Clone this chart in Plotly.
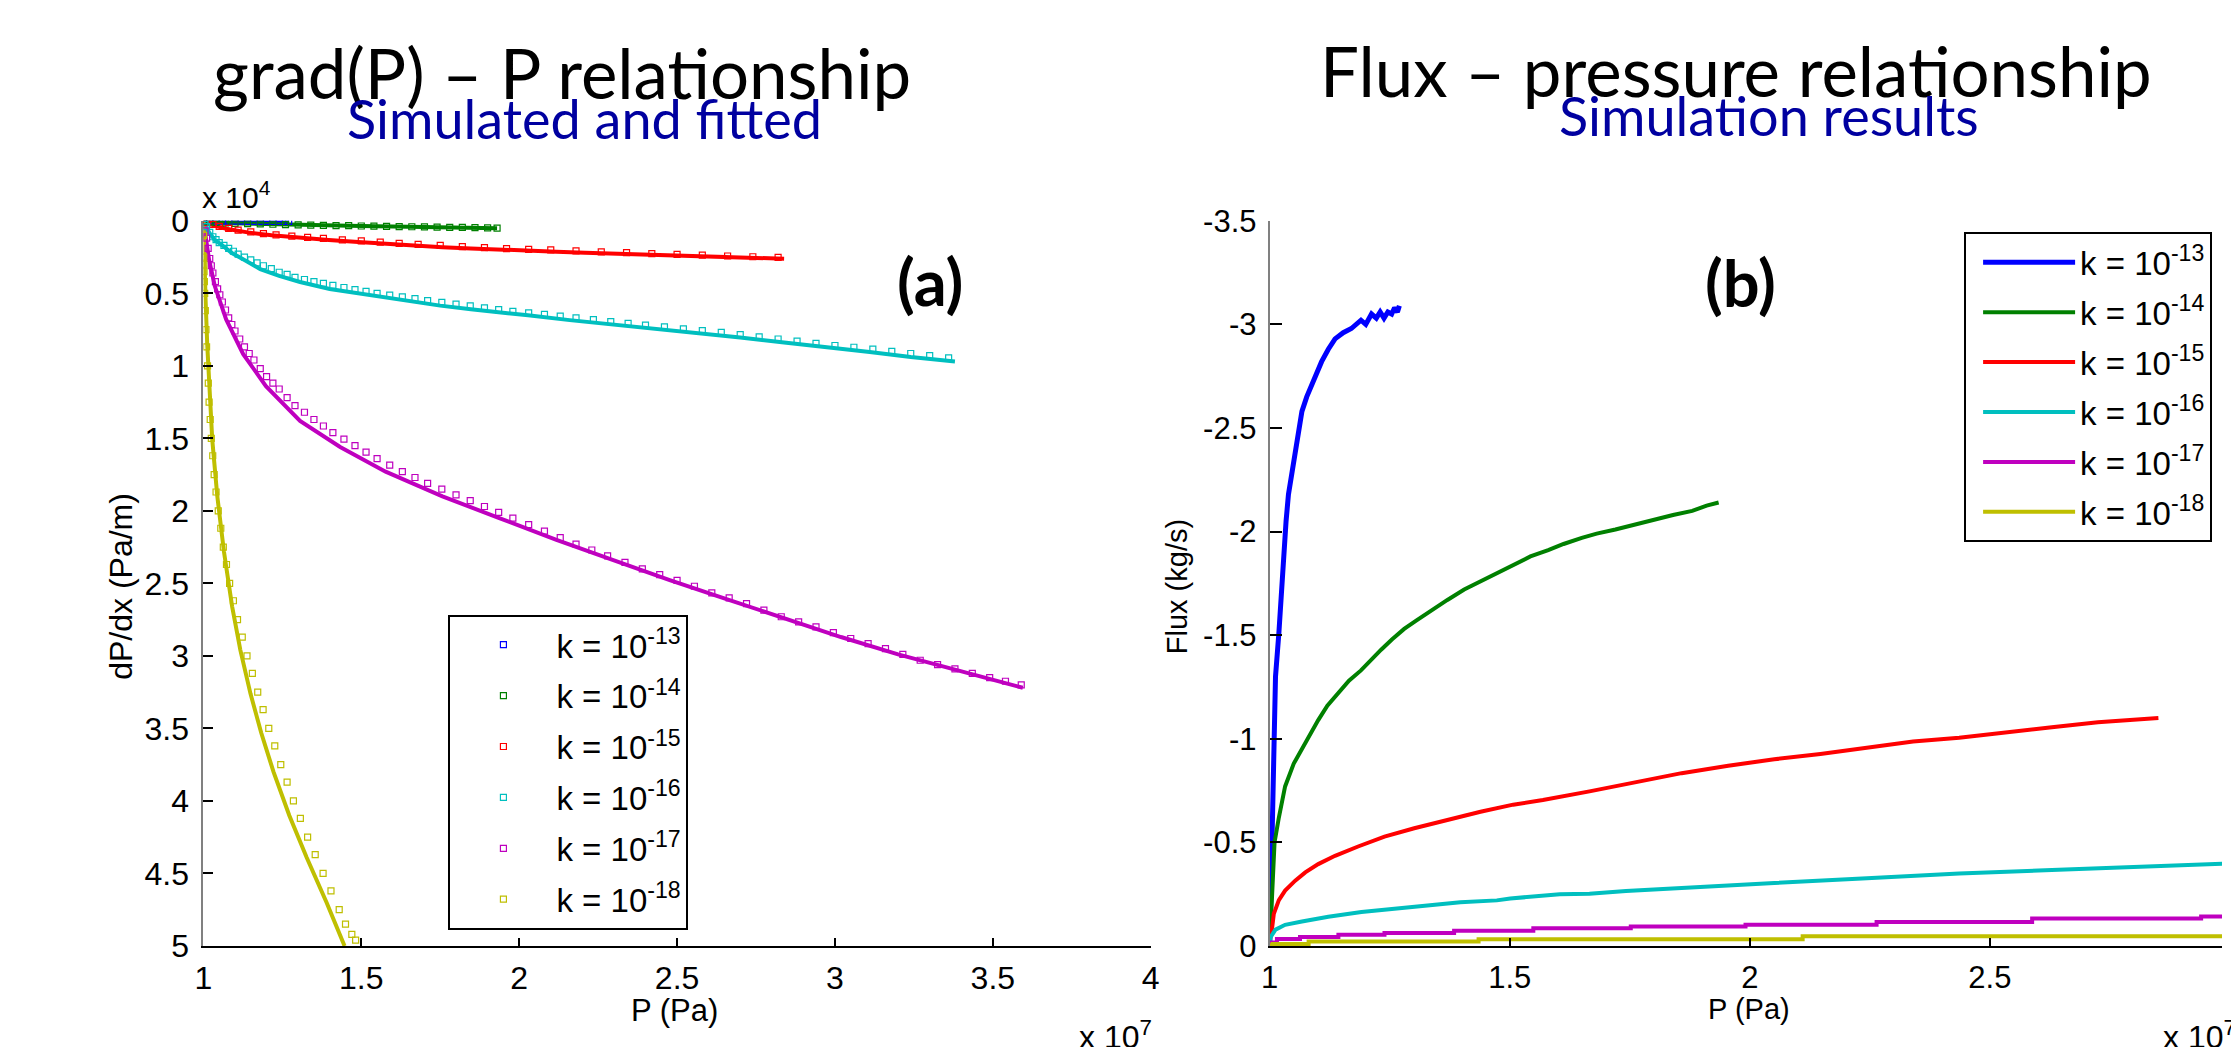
import plotly.graph_objects as go

W, H = 2231, 1047

# ---------------- data ----------------
k_labels = ["k = 10<sup>-13</sup>", "k = 10<sup>-14</sup>", "k = 10<sup>-15</sup>",
            "k = 10<sup>-16</sup>", "k = 10<sup>-17</sup>", "k = 10<sup>-18</sup>"]
colors = ["#0000FF", "#008000", "#FF0000", "#00BFBF", "#BF00BF", "#BFBF00"]

# Panel (a): P in units of 1e7 Pa, dP/dx in units of 1e4 Pa/m
sim_p_13 = [1.00, 1.02, 1.04, 1.06, 1.08, 1.10, 1.12, 1.14, 1.16, 1.18, 1.20, 1.22, 1.24, 1.26, 1.27]
sim_g_13 = [0.000, 0.001, 0.002, 0.002, 0.003, 0.003, 0.003, 0.004, 0.004, 0.004, 0.004, 0.005, 0.005, 0.005, 0.005]
fit_p_13 = [1.00, 1.05, 1.10, 1.15, 1.20, 1.27]
fit_g_13 = [0.000, 0.002, 0.003, 0.004, 0.005, 0.005]

sim_p_14 = [1.00, 1.02, 1.04, 1.07, 1.10, 1.14, 1.18, 1.22, 1.26, 1.30, 1.34, 1.38, 1.42, 1.46,
            1.50, 1.54, 1.58, 1.62, 1.66, 1.70, 1.74, 1.78, 1.82, 1.86, 1.90, 1.93]
sim_g_14 = [0.002, 0.008, 0.012, 0.015, 0.018, 0.020, 0.022, 0.024, 0.026, 0.028, 0.030, 0.031, 0.033, 0.034,
            0.036, 0.037, 0.038, 0.040, 0.041, 0.042, 0.044, 0.045, 0.046, 0.047, 0.049, 0.050]
fit_p_14 = [1.00, 1.03, 1.06, 1.10, 1.20, 1.35, 1.50, 1.65, 1.80, 1.93]
fit_g_14 = [0.000, 0.009, 0.013, 0.017, 0.023, 0.030, 0.036, 0.042, 0.047, 0.051]

sim_p_15 = [1.01, 1.03, 1.05, 1.08, 1.11, 1.15, 1.19, 1.23, 1.28, 1.33, 1.38, 1.44, 1.50, 1.56, 1.62, 1.68,
            1.75, 1.82, 1.89, 1.96, 2.03, 2.10, 2.18, 2.26, 2.34, 2.42, 2.50, 2.58, 2.66, 2.74, 2.82]
sim_g_15 = [0.012, 0.025, 0.038, 0.052, 0.064, 0.077, 0.088, 0.097, 0.106, 0.114, 0.121, 0.131, 0.138, 0.147,
            0.156, 0.163, 0.170, 0.178, 0.185, 0.192, 0.197, 0.201, 0.207, 0.214, 0.220, 0.226, 0.231, 0.237,
            0.243, 0.248, 0.252]
fit_p_15 = [1.000, 1.009, 1.030, 1.072, 1.140, 1.216, 1.300, 1.397, 1.490, 1.577, 1.667, 1.757, 1.847, 1.937,
            2.028, 2.118, 2.208, 2.298, 2.389, 2.479, 2.569, 2.659, 2.749, 2.839]
fit_g_15 = [0.000, 0.011, 0.030, 0.055, 0.080, 0.100, 0.118, 0.133, 0.147, 0.160, 0.171, 0.182, 0.191, 0.200,
            0.207, 0.213, 0.220, 0.226, 0.233, 0.240, 0.246, 0.251, 0.257, 0.262]

sim_p_16 = [1.005, 1.01, 1.02, 1.03, 1.04, 1.05, 1.065, 1.08, 1.095, 1.11, 1.13, 1.15, 1.17, 1.19, 1.215,
            1.24, 1.265, 1.29, 1.32, 1.35, 1.38, 1.41, 1.445, 1.48, 1.515, 1.55, 1.59, 1.63, 1.67, 1.71, 1.755,
            1.80, 1.845, 1.89, 1.935, 1.98, 2.03, 2.08, 2.13, 2.18, 2.235, 2.29, 2.345, 2.40, 2.46, 2.52, 2.58,
            2.64, 2.70, 2.76, 2.82, 2.88, 2.94, 3.00, 3.06, 3.12, 3.18, 3.24, 3.30, 3.36]
sim_g_16 = [0.025, 0.040, 0.080, 0.110, 0.130, 0.150, 0.170, 0.190, 0.210, 0.230, 0.250, 0.270, 0.290, 0.310,
            0.330, 0.355, 0.370, 0.390, 0.405, 0.420, 0.432, 0.445, 0.460, 0.475, 0.487, 0.500, 0.512, 0.525,
            0.537, 0.550, 0.562, 0.575, 0.587, 0.600, 0.612, 0.625, 0.635, 0.645, 0.657, 0.670, 0.682, 0.695,
            0.707, 0.720, 0.732, 0.745, 0.757, 0.770, 0.785, 0.800, 0.815, 0.830, 0.845, 0.860, 0.872, 0.885,
            0.900, 0.915, 0.930, 0.945]
fit_p_16 = [1.000, 1.003, 1.009, 1.018, 1.036, 1.060, 1.090, 1.130, 1.180, 1.240, 1.306, 1.400, 1.487, 1.580,
            1.667, 1.750, 1.847, 1.940, 2.028, 2.160, 2.298, 2.430, 2.569, 2.700, 2.839, 2.970, 3.110, 3.240, 3.380]
fit_g_16 = [0.000, 0.020, 0.045, 0.080, 0.133, 0.170, 0.222, 0.270, 0.333, 0.380, 0.422, 0.470, 0.499, 0.530,
            0.555, 0.585, 0.610, 0.635, 0.652, 0.685, 0.715, 0.745, 0.777, 0.805, 0.840, 0.870, 0.905, 0.940, 0.970]

sim_p_17 = [1.005, 1.01, 1.015, 1.02, 1.025, 1.03, 1.038, 1.045, 1.052, 1.06, 1.07, 1.08, 1.09, 1.10, 1.115,
            1.13, 1.145, 1.16, 1.18, 1.20, 1.22, 1.24, 1.265, 1.29, 1.32, 1.35, 1.38, 1.41, 1.445, 1.48, 1.515,
            1.55, 1.59, 1.63, 1.67, 1.71, 1.755, 1.80, 1.845, 1.89, 1.935, 1.98, 2.03, 2.08, 2.13, 2.18, 2.23,
            2.28, 2.335, 2.39, 2.445, 2.50, 2.555, 2.61, 2.665, 2.72, 2.775, 2.83, 2.885, 2.94, 2.995, 3.05,
            3.105, 3.16, 3.215, 3.27, 3.325, 3.38, 3.435, 3.49, 3.54, 3.59]
sim_g_17 = [0.07, 0.12, 0.19, 0.26, 0.31, 0.36, 0.42, 0.47, 0.51, 0.56, 0.615, 0.67, 0.715, 0.76, 0.815,
            0.87, 0.915, 0.96, 1.02, 1.075, 1.12, 1.16, 1.22, 1.275, 1.32, 1.37, 1.415, 1.46, 1.505, 1.55, 1.595,
            1.64, 1.685, 1.73, 1.77, 1.81, 1.85, 1.89, 1.93, 1.97, 2.01, 2.05, 2.095, 2.14, 2.185, 2.23, 2.27,
            2.31, 2.355, 2.40, 2.44, 2.48, 2.52, 2.565, 2.60, 2.64, 2.685, 2.73, 2.765, 2.80, 2.84, 2.88,
            2.915, 2.95, 2.99, 3.03, 3.06, 3.09, 3.12, 3.15, 3.175, 3.20]
fit_p_17 = [1.000, 1.018, 1.036, 1.072, 1.126, 1.198, 1.306, 1.433, 1.577, 1.757, 1.937, 2.118, 2.298, 2.479,
            2.659, 2.839, 3.019, 3.200, 3.400, 3.595]
fit_g_17 = [0.00, 0.27, 0.45, 0.68, 0.92, 1.14, 1.38, 1.56, 1.73, 1.90, 2.05, 2.20, 2.34, 2.48,
            2.61, 2.74, 2.87, 2.99, 3.11, 3.22]

sim_p_18 = [1.0005, 1.001, 1.0015, 1.002, 1.003, 1.004, 1.006, 1.008, 1.010, 1.013, 1.0155, 1.018, 1.0215,
            1.025, 1.0295, 1.034, 1.040, 1.047, 1.055, 1.063, 1.073, 1.083, 1.095, 1.108, 1.123, 1.138, 1.155,
            1.172, 1.189, 1.207, 1.226, 1.245, 1.265, 1.285, 1.307, 1.330, 1.354, 1.379, 1.404, 1.430, 1.450,
            1.470, 1.482]
sim_g_18 = [0.10, 0.25, 0.30, 0.35, 0.42, 0.50, 0.62, 0.75, 0.87, 1.00, 1.12, 1.25, 1.37, 1.50, 1.62, 1.75,
            1.87, 2.00, 2.12, 2.25, 2.37, 2.50, 2.62, 2.75, 2.87, 3.00, 3.12, 3.25, 3.37, 3.50, 3.62, 3.75,
            3.87, 4.00, 4.12, 4.25, 4.37, 4.50, 4.62, 4.75, 4.85, 4.92, 4.96]
fit_p_18 = [1.000, 1.003, 1.007, 1.012, 1.018, 1.028, 1.044, 1.065, 1.091, 1.117, 1.149, 1.183, 1.222, 1.272,
            1.327, 1.390, 1.447]
fit_g_18 = [0.00, 0.30, 0.55, 0.85, 1.13, 1.51, 1.90, 2.28, 2.66, 2.96, 3.26, 3.53, 3.80, 4.10,
            4.39, 4.70, 5.00]

# Panel (b): P in units of 1e7 Pa, flux in kg/s
flux_p_13 = [1.000, 1.004, 1.006, 1.008, 1.012, 1.019, 1.024, 1.029, 1.034, 1.039, 1.046, 1.053, 1.060, 1.067,
             1.077, 1.088, 1.098, 1.108, 1.122, 1.136, 1.153, 1.170, 1.190, 1.200, 1.212, 1.222, 1.230, 1.238,
             1.246, 1.254, 1.260, 1.266, 1.270]
flux_q_13 = [0.00, -0.40, -0.80, -1.06, -1.30, -1.51, -1.72, -1.91, -2.05, -2.18, -2.29, -2.39, -2.49, -2.58,
             -2.65, -2.71, -2.77, -2.82, -2.88, -2.93, -2.96, -2.98, -3.02, -3.00, -3.05, -3.03, -3.06, -3.03,
             -3.06, -3.05, -3.08, -3.06, -3.09]
flux_p_14 = [1.000, 1.003, 1.005, 1.010, 1.019, 1.032, 1.050, 1.067, 1.085, 1.101, 1.120, 1.143, 1.165, 1.190,
             1.210, 1.232, 1.255, 1.280, 1.305, 1.336, 1.370, 1.405, 1.440, 1.474, 1.510, 1.543, 1.580, 1.612,
             1.650, 1.681, 1.720, 1.760, 1.800, 1.840, 1.880, 1.910, 1.935]
flux_q_14 = [0.00, -0.15, -0.31, -0.50, -0.62, -0.77, -0.88, -0.95, -1.03, -1.09, -1.16, -1.22, -1.28, -1.33,
             -1.38, -1.43, -1.48, -1.53, -1.57, -1.62, -1.67, -1.72, -1.76, -1.80, -1.84, -1.88, -1.91, -1.94,
             -1.97, -1.99, -2.01, -2.035, -2.06, -2.08, -2.10, -2.125, -2.14]
flux_p_15 = [1.000, 1.001, 1.005, 1.0085, 1.019, 1.032, 1.053, 1.074, 1.101, 1.136, 1.184, 1.239, 1.301, 1.370,
             1.439, 1.507, 1.569, 1.666, 1.762, 1.858, 1.955, 2.051, 2.147, 2.244, 2.340, 2.436, 2.533, 2.629,
             2.725, 2.851]
flux_q_15 = [0.000, -0.048, -0.088, -0.155, -0.221, -0.267, -0.315, -0.355, -0.395, -0.435, -0.480, -0.528,
             -0.568, -0.608, -0.648, -0.682, -0.704, -0.746, -0.792, -0.834, -0.870, -0.901, -0.927, -0.959,
             -0.987, -1.005, -1.033, -1.056, -1.080, -1.100]
flux_p_16 = [1.000, 1.001, 1.012, 1.032, 1.067, 1.122, 1.191, 1.260, 1.329, 1.397, 1.473, 1.501, 1.604, 1.666,
             1.742, 1.858, 1.886, 1.990, 2.051, 2.244, 2.436, 2.629, 2.822, 2.990]
flux_q_16 = [0.000, -0.040, -0.079, -0.102, -0.118, -0.141, -0.164, -0.180, -0.195, -0.211, -0.220, -0.229,
             -0.250, -0.252, -0.265, -0.281, -0.283, -0.296, -0.304, -0.327, -0.350, -0.366, -0.382, -0.397]
flux_p_17 = [1.000, 1.004, 1.015, 1.063, 1.143, 1.239, 1.384, 1.549, 1.752, 1.991, 2.264, 2.588, 2.940, 2.990]
flux_q_17 = [0.000, -0.017, -0.033, -0.043, -0.054, -0.063, -0.073, -0.085, -0.094, -0.102, -0.116, -0.132,
             -0.142, -0.142]
flux_p_18 = [1.000, 1.006, 1.081, 1.435, 2.110, 2.990]
flux_q_18 = [-0.004, -0.010, -0.022, -0.032, -0.047, -0.047]

x_ticks_a = [1, 1.5, 2, 2.5, 3, 3.5, 4]
x_ticktext_a = ["1", "1.5", "2", "2.5", "3", "3.5", "4"]
y_ticks_a = [0, 0.5, 1, 1.5, 2, 2.5, 3, 3.5, 4, 4.5, 5]
y_ticktext_a = ["0", "0.5", "1", "1.5", "2", "2.5", "3", "3.5", "4", "4.5", "5"]
x_ticks_b = [1, 1.5, 2, 2.5, 3]
x_ticktext_b = ["1", "1.5", "2", "2.5", "3"]
y_ticks_b = [-3.5, -3, -2.5, -2, -1.5, -1, -0.5, 0]
y_ticktext_b = ["-3.5", "-3", "-2.5", "-2", "-1.5", "-1", "-0.5", "0"]

sim_p = [sim_p_13, sim_p_14, sim_p_15, sim_p_16, sim_p_17, sim_p_18]
sim_g = [sim_g_13, sim_g_14, sim_g_15, sim_g_16, sim_g_17, sim_g_18]
fit_p = [fit_p_13, fit_p_14, fit_p_15, fit_p_16, fit_p_17, fit_p_18]
fit_g = [fit_g_13, fit_g_14, fit_g_15, fit_g_16, fit_g_17, fit_g_18]
flux_p = [flux_p_13, flux_p_14, flux_p_15, flux_p_16, flux_p_17, flux_p_18]
flux_q = [flux_q_13, flux_q_14, flux_q_15, flux_q_16, flux_q_17, flux_q_18]
flux_shape = ["linear", "linear", "linear", "linear", "hv", "hv"]

# ---------------- helpers ----------------
def px(x):
    return x / W

def py(y):
    return 1 - y / H

ARIAL = "Liberation Sans, Arial, sans-serif"
SLIDE = "Lato, Open Sans, sans-serif"

fig = go.Figure()

# Panel (a): fitted lines first, then simulated squares
for i in range(6):
    fig.add_trace(go.Scatter(
        x=fit_p[i], y=fit_g[i], mode="lines", xaxis="x", yaxis="y",
        line=dict(color=colors[i], width=4 if i > 0 else 3),
        showlegend=False, hoverinfo="skip"))
for i in range(6):
    fig.add_trace(go.Scatter(
        x=sim_p[i], y=sim_g[i], mode="markers", xaxis="x", yaxis="y",
        marker=dict(symbol="square-open", size=6, color=colors[i], line=dict(width=1.2, color=colors[i])),
        name=k_labels[i], legend="legend", legendgroup="a%d" % i))

# Panel (b)
for i in range(6):
    fig.add_trace(go.Scatter(
        x=flux_p[i], y=flux_q[i], mode="lines", xaxis="x2", yaxis="y2",
        line=dict(color=colors[i], width=5 if i == 0 else 4, shape=flux_shape[i]),
        name=k_labels[i], legend="legend2", legendgroup="b%d" % i))

ydom = [py(961), py(210)]

axis_common = dict(showgrid=False, zeroline=False, showline=True, ticks="inside",
                   tickcolor="black", tickwidth=2, mirror=False)

fig.update_layout(
    width=W, height=H, autosize=False,
    margin=dict(l=0, r=0, t=0, b=0),
    paper_bgcolor="white", plot_bgcolor="white",
    xaxis=dict(domain=[px(196), px(1151)], range=[1, 4], anchor="y",
               tickvals=x_ticks_a, ticktext=x_ticktext_a, ticklen=8,
               linecolor="black", linewidth=2, ticklabelstandoff=3,
               tickfont=dict(family=ARIAL, size=32, color="black"), **axis_common),
    yaxis=dict(domain=ydom, range=[5, 0], anchor="x",
               tickvals=y_ticks_a, ticktext=y_ticktext_a, ticklen=10,
               linecolor="#808080", linewidth=2, ticklabelstandoff=6,
               tickfont=dict(family=ARIAL, size=32, color="black"), **axis_common),
    xaxis2=dict(domain=[px(1271), 1.0], range=[1, 1 + (W - 1271) / 484.0], anchor="y2",
                tickvals=x_ticks_b, ticktext=x_ticktext_b, ticklen=8,
                linecolor="black", linewidth=2, ticklabelstandoff=3,
                tickfont=dict(family=ARIAL, size=31, color="black"), **axis_common),
    yaxis2=dict(domain=ydom, range=[0, -3.5], anchor="x2",
                tickvals=y_ticks_b, ticktext=y_ticktext_b, ticklen=12,
                linecolor="#808080", linewidth=2, ticklabelstandoff=5,
                tickfont=dict(family=ARIAL, size=31, color="black"), **axis_common),
    legend=dict(x=px(443), y=py(618), xanchor="left", yanchor="top",
                bgcolor="white", bordercolor="black", borderwidth=2,
                font=dict(family=ARIAL, size=33, color="black"),
                itemwidth=96, tracegroupgap=5),
    legend2=dict(x=px(1971), y=py(222), xanchor="left", yanchor="top",
                 bgcolor="white", bordercolor="black", borderwidth=2,
                 font=dict(family=ARIAL, size=33, color="black"),
                 itemwidth=92, tracegroupgap=4, indentation=12),
)

annotations = [
    # titles
    dict(text="grad(P) \u2013 P relationship", x=px(558), y=py(56), font=dict(family=SLIDE, size=69, color="black")),
    dict(text="Simulated and fitted", x=px(580), y=py(104), font=dict(family=SLIDE, size=54, color="#0000A0")),
    dict(text="Flux \u2013 pressure relationship", x=px(1741), y=py(54), font=dict(family=SLIDE, size=69, color="black")),
    dict(text="Simulation results", x=px(1774), y=py(101), font=dict(family=SLIDE, size=54, color="#0000A0")),
    # panel labels
    dict(text="<b>(a)</b>", x=px(928), y=py(272), font=dict(family=SLIDE, size=65, color="black")),
    dict(text="<b>(b)</b>", x=px(1746), y=py(273), font=dict(family=SLIDE, size=65, color="black")),
    # axis titles
    dict(text="dP/dx (Pa/m)", x=px(113), y=py(589), textangle=-90, font=dict(family=ARIAL, size=32, color="black")),
    dict(text="P (Pa)", x=px(671), y=py(1028), font=dict(family=ARIAL, size=31, color="black")),
    dict(text="Flux (kg/s)", x=px(1177), y=py(589), textangle=-90, font=dict(family=ARIAL, size=29, color="black")),
    dict(text="P (Pa)", x=px(1754), y=py(1026), font=dict(family=ARIAL, size=29, color="black")),
    # exponent labels
    dict(text="x 10<sup>4</sup>", x=px(193), y=py(183), xanchor="left", font=dict(family=ARIAL, size=30, color="black")),
    dict(text="x 10<sup>7</sup>", x=px(1077), y=py(1030), xanchor="left", yanchor="top",
         font=dict(family=ARIAL, size=32, color="black")),
    dict(text="x 10<sup>7</sup>", x=px(2169), y=py(1030), xanchor="left", yanchor="top",
         font=dict(family=ARIAL, size=32, color="black")),
]
for a in annotations:
    a.setdefault("xanchor", "center")
    a.setdefault("yanchor", "middle")
    a.update(xref="paper", yref="paper", showarrow=False)
fig.update_layout(annotations=annotations)

fig.write_html("out.html")
